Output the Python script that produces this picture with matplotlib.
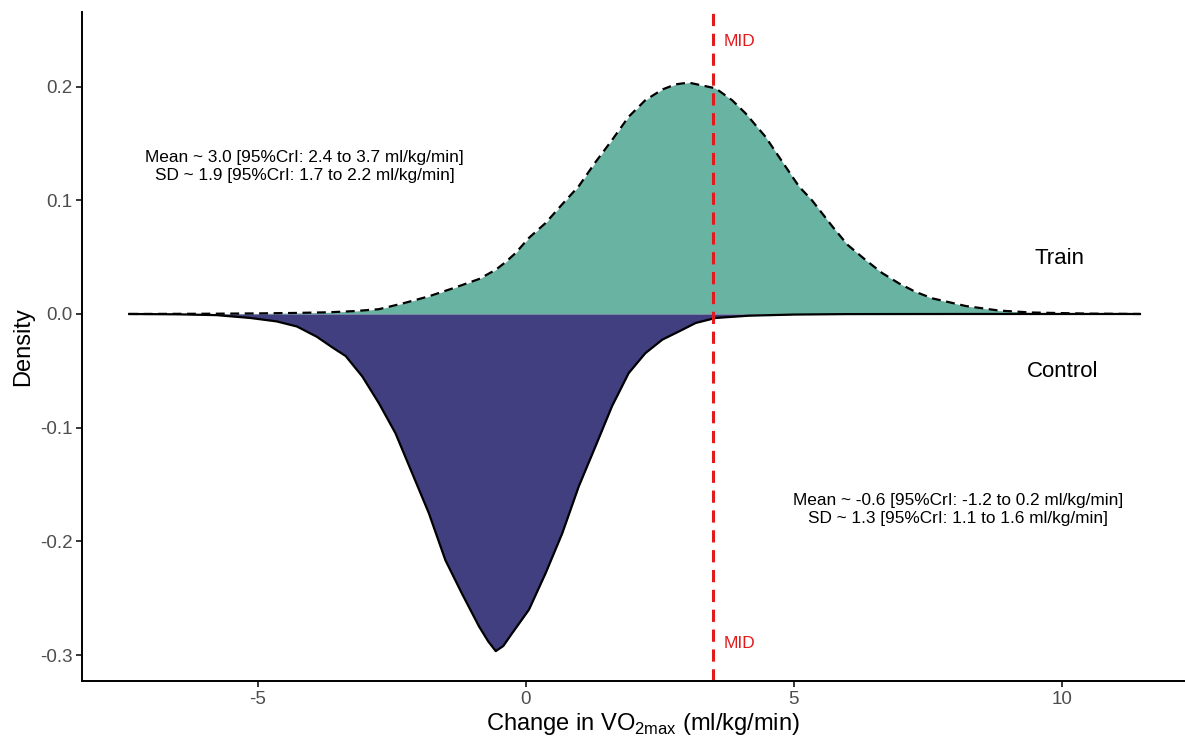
import numpy as np
import matplotlib
matplotlib.use("Agg")
import matplotlib.pyplot as plt

plt.rcParams['font.family'] = ['Liberation Sans', 'DejaVu Sans']

# density values (x in ml/kg/min)
train_x = [-7.40, -6.00, -5.00, -4.30, -3.67, -3.21, -2.74, -2.27, -1.81, -1.34,
           -0.87, -0.56, -0.38, -0.19, 0.06, 0.37, 0.68, 0.99, 1.30, 1.61,
           1.92, 2.23, 2.55, 2.80, 3.04, 3.23, 3.54, 3.85, 4.10, 4.47, 4.72,
           5.10, 5.34, 5.72, 6.00, 6.34, 6.65, 6.96, 7.27, 7.58, 8.21, 8.83, 9.44, 10.50, 11.46]
train_y = [0.0, 0.0002, 0.0005, 0.0009, 0.0015, 0.0025, 0.0042, 0.0096, 0.0155, 0.0229,
           0.0308, 0.0389, 0.0455, 0.0536, 0.0670, 0.0800, 0.0965, 0.1125, 0.1335, 0.1530,
           0.1735, 0.1880, 0.1975, 0.2020, 0.2035, 0.2016, 0.1985, 0.1880, 0.1765, 0.1560, 0.1385,
           0.1120, 0.1000, 0.0770, 0.0610, 0.0475, 0.0360, 0.0270, 0.0195, 0.0138, 0.0070, 0.0030, 0.0013, 0.0003, 0.0]

control_x = [-7.40, -6.50, -5.77, -5.14, -4.65, -4.27, -3.90, -3.59, -3.36, -3.05,
             -2.74, -2.43, -2.12, -1.81, -1.50, -1.19, -0.87, -0.70, -0.56, -0.42, -0.25, 0.06,
             0.37, 0.68, 0.99, 1.30, 1.61, 1.92, 2.23, 2.55, 2.86, 3.17,
             3.54, 4.16, 5.00, 6.00, 8.00, 11.46]
control_y = [0.0, -0.0003, -0.0010, -0.0035, -0.0065, -0.0110, -0.0200, -0.0300, -0.0370, -0.0550,
             -0.0785, -0.1050, -0.1400, -0.1750, -0.2165, -0.2460, -0.2750, -0.2880, -0.2965, -0.2920, -0.2805, -0.2600,
             -0.2280, -0.1930, -0.1515, -0.1165, -0.0810, -0.0520, -0.0345, -0.0225, -0.0153, -0.0079,
             -0.0035, -0.0015, -0.0005, -0.0001, 0.0, 0.0]

mid = 3.5
train_label = "Mean ~ 3.0 [95%CrI: 2.4 to 3.7 ml/kg/min]\nSD ~ 1.9 [95%CrI: 1.7 to 2.2 ml/kg/min]"
control_label = "Mean ~ -0.6 [95%CrI: -1.2 to 0.2 ml/kg/min]\nSD ~ 1.3 [95%CrI: 1.1 to 1.6 ml/kg/min]"

fig = plt.figure(figsize=(11.85, 7.4), dpi=100)
ax = fig.add_axes([0.0692, 0.0797, 0.9308, 0.9041])

ax.fill_between(train_x, 0, train_y, color="#69B3A3", lw=0)
ax.fill_between(control_x, control_y, 0, color="#413F7F", lw=0)
ax.plot(control_x, control_y, color="black", lw=1.6)
ax.plot(train_x, train_y, color="black", lw=1.6, ls=(0, (4, 2.5)))

ax.axvline(mid, color="#E31A1C", lw=2.2, ls=(0, (4, 2.5)))
ax.text(mid + 0.2, 0.2395, "MID", color="#E31A1C", fontsize=12.5, va="center", ha="left")
ax.text(mid + 0.2, -0.290, "MID", color="#E31A1C", fontsize=12.5, va="center", ha="left")

ax.text(-4.13, 0.1296, train_label, ha="center", va="center", fontsize=12.4, linespacing=1.25)
ax.text(8.06, -0.172, control_label, ha="center", va="center", fontsize=12.4, linespacing=1.25)
ax.text(9.95, 0.0486, "Train", ha="center", va="center", fontsize=16)
ax.text(10.02, -0.0508, "Control", ha="center", va="center", fontsize=16)

ax.set_xlim(-8.28, 12.3)
ax.set_ylim(-0.3228, 0.2656)
ax.set_xticks([-5, 0, 5, 10])
ax.set_xticklabels(["-5", "0", "5", "10"])
ax.set_yticks([-0.3, -0.2, -0.1, 0.0, 0.1, 0.2])
ax.set_yticklabels(["-0.3", "-0.2", "-0.1", "0.0", "0.1", "0.2"])

for s in ["top", "right"]:
    ax.spines[s].set_visible(False)
for s in ["left", "bottom"]:
    ax.spines[s].set_linewidth(1.4)
ax.tick_params(length=4, width=1.1, labelsize=13.5, labelcolor="#4D4D4D", pad=3)

ax.set_xlabel(r"Change in VO$_{\mathregular{2max}}$ (ml/kg/min)", fontsize=17)
ax.xaxis.set_label_coords(0.5086, -0.045)
ax.set_ylabel("Density", fontsize=17, labelpad=4)

fig.savefig("out.png", dpi=100)
